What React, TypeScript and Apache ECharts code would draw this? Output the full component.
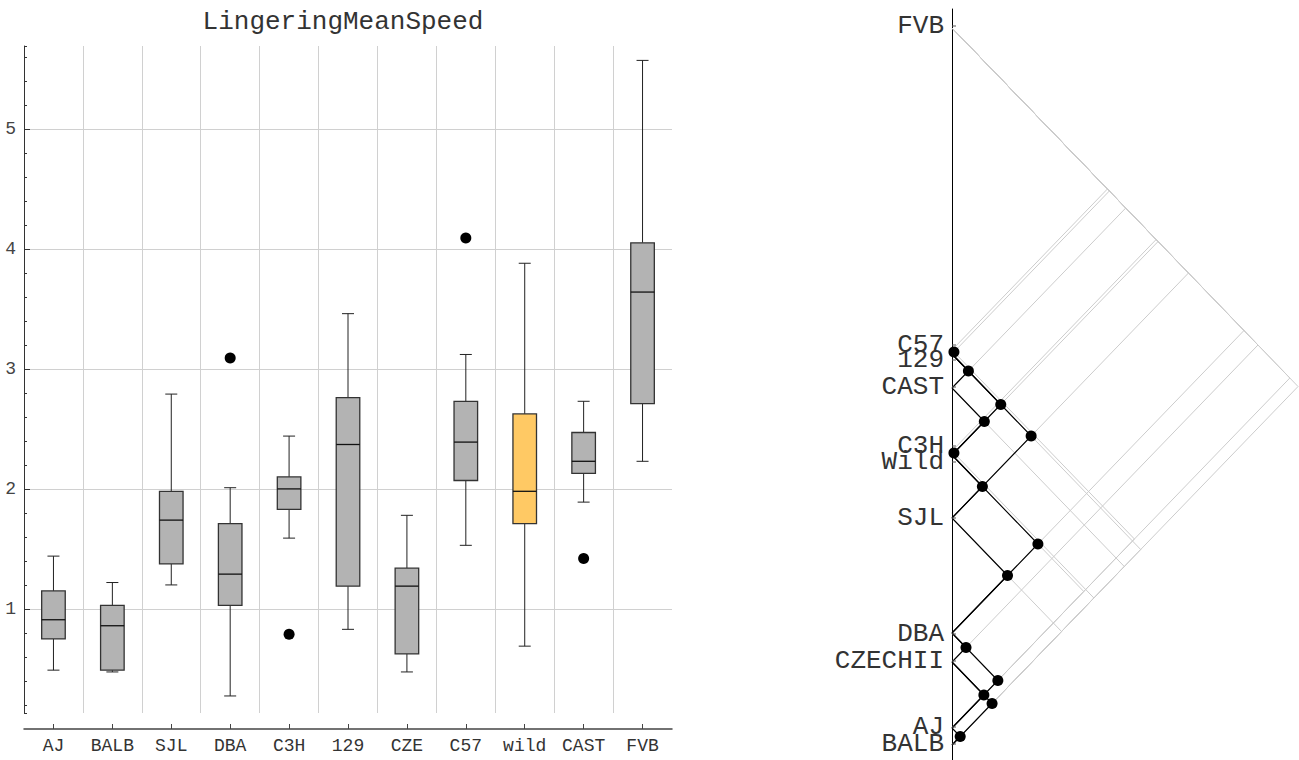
import React, { useEffect, useRef } from 'react';
import * as echarts from 'echarts';

// ---------- Left panel: box plots ----------
const strains = ['AJ', 'BALB', 'SJL', 'DBA', 'C3H', '129', 'CZE', 'C57', 'wild', 'CAST', 'FVB'];
const whiskerLow = [0.49, 0.475, 1.2, 0.275, 1.59, 0.83, 0.475, 1.53, 0.69, 1.89, 2.23];
const quartile1 = [0.75, 0.49, 1.375, 1.03, 1.83, 1.19, 0.625, 2.07, 1.71, 2.13, 2.71];
const medians = [0.91, 0.86, 1.74, 1.29, 2.0, 2.37, 1.19, 2.39, 1.98, 2.23, 3.64];
const quartile3 = [1.15, 1.03, 1.98, 1.71, 2.1, 2.76, 1.34, 2.73, 2.625, 2.47, 4.05];
const whiskerHigh = [1.44, 1.22, 2.79, 2.01, 2.44, 3.46, 1.78, 3.12, 3.88, 2.73, 5.57];
const outlierStrain = ['DBA', 'C3H', 'C57', 'CAST'];
const outlierValue = [3.09, 0.79, 4.09, 1.42];
const highlighted = 'wild';

// ---------- Right panel: pyramid (overlapping clusters) ----------
const leafNames = ['FVB', 'C57', '129', 'CAST', 'C3H', 'Wild', 'SJL', 'DBA', 'CZECHII', 'AJ', 'BALB'];
const leafPos = [28, 350, 354, 388, 451, 455, 518, 633, 662, 728, 745];
const leafLabelPos = [26, 345, 360, 387, 446, 462, 518, 634, 661, 727, 744];
const blackClusters = [
  [1, 2], [2, 3], [3, 5], [4, 5], [2, 5], [2, 6], [5, 6], [5, 7], [6, 7],
  [7, 8], [7, 9], [8, 9], [8, 10], [9, 10],
];
const grayClusters = [
  [0, 1], [0, 2], [0, 3], [0, 4], [0, 5], [0, 6], [0, 7], [0, 8], [0, 9], [0, 10],
  [1, 9], [2, 10], [3, 10], [4, 10], [5, 9], [6, 10],
];

const FONT = '"Liberation Mono", "DejaVu Sans Mono", monospace';
const BOX_FILL = '#b3b3b3';
const WILD_FILL = '#ffc964';
const GRID_GRAY = '#d0d0d0';

export default function App() {
  const ref = useRef<HTMLDivElement>(null);

  useEffect(() => {
    if (!ref.current) return;
    const chart = echarts.init(ref.current, null, { renderer: 'svg' });

    const boxData = strains.map((_, i) => [
      i, whiskerLow[i], quartile1[i], medians[i], quartile3[i], whiskerHigh[i],
    ]);
    const outliers = outlierStrain.map((s, i) => [strains.indexOf(s), outlierValue[i]]);

    const apex = (a: number, b: number) => [
      (leafPos[b] - leafPos[a]) / 2,
      (leafPos[a] + leafPos[b]) / 2,
    ];
    const tri = (c: number[]) => [[0, leafPos[c[0]]], apex(c[0], c[1]), [0, leafPos[c[1]]]];

    const grayLines = grayClusters.map((c) => ({
      type: 'line',
      xAxisIndex: 1,
      yAxisIndex: 2,
      data: tri(c),
      symbol: 'none',
      silent: true,
      z: 2,
      lineStyle: { color: '#cccccc', width: 1 },
    }));
    const blackLines = blackClusters.map((c) => ({
      type: 'line',
      xAxisIndex: 1,
      yAxisIndex: 2,
      data: tri(c),
      symbol: 'none',
      silent: true,
      z: 3,
      lineStyle: { color: '#000', width: 1.1 },
    }));

    const option: any = {
      animation: false,
      backgroundColor: '#fff',
      graphic: [
        {
          type: 'text',
          x: 343,
          y: 22,
          style: {
            text: 'LingeringMeanSpeed',
            font: `26px ${FONT}`,
            fill: '#333',
            textAlign: 'center',
            textVerticalAlign: 'middle',
          },
        },
      ],
      grid: [
        { left: 24, top: 46, width: 648, height: 667 },
        { left: 952, top: 9, width: 347, height: 751 },
      ],
      xAxis: [
        {
          type: 'category',
          gridIndex: 0,
          data: strains,
          boundaryGap: true,
          offset: 16,
          axisLine: { show: true, lineStyle: { color: '#444', width: 1.5 } },
          axisTick: { show: true, inside: true, alignWithLabel: true, length: 5, lineStyle: { color: '#444' } },
          axisLabel: { fontFamily: FONT, fontSize: 18, color: '#333', margin: 8 },
          splitLine: { show: true, showMinLine: false, showMaxLine: false, lineStyle: { color: GRID_GRAY } },
        },
        {
          type: 'value',
          gridIndex: 1,
          min: 0,
          max: 359.5,
          show: false,
        },
      ],
      yAxis: [
        {
          type: 'value',
          gridIndex: 0,
          min: 0.133,
          max: 5.69,
          splitNumber: 5,
          axisLine: { show: true, lineStyle: { color: '#333' } },
          axisTick: { show: true, inside: true, length: 6, lineStyle: { color: '#333' } },
          axisLabel: { showMinLabel: false, showMaxLabel: false, fontFamily: FONT, fontSize: 18, color: '#444', margin: 8 },
          splitLine: { show: true, showMinLine: false, showMaxLine: false, lineStyle: { color: GRID_GRAY } },
        },
        {
          type: 'value',
          gridIndex: 0,
          min: 0.133,
          max: 5.69,
          splitNumber: 28,
          position: 'left',
          axisLine: { show: false },
          axisTick: { show: true, inside: true, length: 3, lineStyle: { color: '#333' } },
          axisLabel: { show: false },
          splitLine: { show: false },
        },
        {
          type: 'value',
          gridIndex: 1,
          inverse: true,
          min: 9,
          max: 760,
          axisLine: { show: true, lineStyle: { color: '#000', width: 1 } },
          axisTick: { show: false },
          axisLabel: { show: false },
          splitLine: { show: false },
        },
      ],
      series: [
        {
          type: 'custom',
          xAxisIndex: 0,
          yAxisIndex: 0,
          data: boxData,
          encode: { x: 0, y: [1, 2, 3, 4, 5] },
          z: 3,
          renderItem: (params: any, api: any) => {
            const i = api.value(0);
            const lo = api.coord([i, api.value(1)]);
            const q1 = api.coord([i, api.value(2)]);
            const md = api.coord([i, api.value(3)]);
            const q3 = api.coord([i, api.value(4)]);
            const hi = api.coord([i, api.value(5)]);
            const bw = api.size([1, 0])[0] * 0.4;
            const x = lo[0];
            const cap = 6;
            const fill = strains[i] === highlighted ? WILD_FILL : BOX_FILL;
            const wStyle = { stroke: '#222', lineWidth: 1 };
            return {
              type: 'group',
              children: [
                { type: 'line', shape: { x1: x, y1: hi[1], x2: x, y2: q3[1] }, style: wStyle },
                { type: 'line', shape: { x1: x, y1: q1[1], x2: x, y2: lo[1] }, style: wStyle },
                { type: 'line', shape: { x1: x - cap, y1: hi[1], x2: x + cap, y2: hi[1] }, style: wStyle },
                { type: 'line', shape: { x1: x - cap, y1: lo[1], x2: x + cap, y2: lo[1] }, style: wStyle },
                {
                  type: 'rect',
                  shape: { x: x - bw / 2, y: q3[1], width: bw, height: q1[1] - q3[1] },
                  style: { fill, stroke: '#333', lineWidth: 1.3 },
                },
                {
                  type: 'line',
                  shape: { x1: x - bw / 2, y1: md[1], x2: x + bw / 2, y2: md[1] },
                  style: { stroke: '#111', lineWidth: 1.3 },
                },
              ],
            };
          },
        },
        {
          type: 'scatter',
          xAxisIndex: 0,
          yAxisIndex: 0,
          data: outliers,
          symbol: 'circle',
          symbolSize: 11,
          itemStyle: { color: '#000', opacity: 1 },
          z: 4,
        },
        ...grayLines,
        ...blackLines,
        {
          type: 'scatter',
          xAxisIndex: 1,
          yAxisIndex: 2,
          data: blackClusters.map((c) => apex(c[0], c[1])),
          symbol: 'circle',
          symbolSize: 11,
          itemStyle: { color: '#000', opacity: 1 },
          silent: true,
          z: 5,
        },
        {
          type: 'scatter',
          xAxisIndex: 1,
          yAxisIndex: 2,
          data: leafNames.map((n, i) => ({ name: n, value: [0, leafLabelPos[i]] })),
          symbol: 'rect',
          symbolSize: [4, 1],
          symbolOffset: [2, 0],
          itemStyle: { color: '#555', opacity: 1 },
          silent: true,
          z: 6,
          label: {
            show: true,
            position: 'left',
            distance: 8,
            formatter: '{b}',
            fontFamily: FONT,
            fontSize: 26,
            color: '#333',
          },
        },
      ],
    };

    chart.setOption(option);
    return () => {
      chart.dispose();
    };
  }, []);

  return (
    <div
      ref={ref}
      style={{ position: 'fixed', left: 0, top: 0, width: 1299, height: 760, background: '#fff' }}
    />
  );
}
